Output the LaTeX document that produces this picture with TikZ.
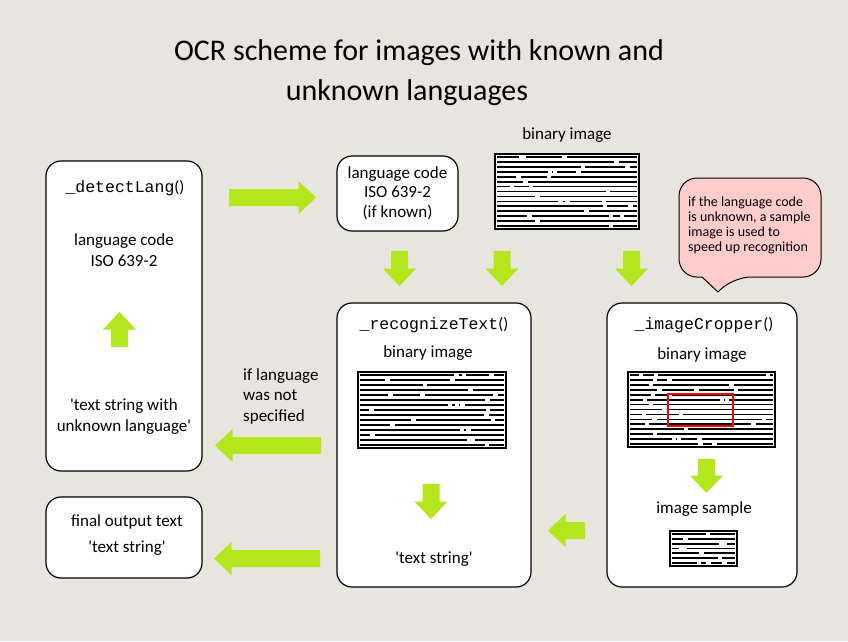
\documentclass[tikz,border=0pt]{standalone}
\usepackage{fontspec}
\setmainfont{Carlito}
\setmonofont{Liberation Mono}
\definecolor{bgcol}{RGB}{232,228,222}
\definecolor{arrowgreen}{RGB}{180,230,30}
\definecolor{calloutpink}{RGB}{255,204,204}

% binary image: x, y, width, height, rows
\newcommand{\binimg}[5]{%
  \fill[white] (#1,#2) rectangle ++(#3,#4);
  \pgfmathtruncatemacro{\lastrow}{#5-1}%
  \foreach \r in {0,...,\lastrow}{%
    \pgfmathsetmacro{\ry}{#2+4+\r*(#4-8)/\lastrow}%
    \draw[line width=1.7pt] (#1+3,\ry) -- (#1+#3-3,\ry);
    \pgfmathtruncatemacro{\ng}{1+int(2.99*rnd)}%
    \foreach \k in {1,...,\ng}{%
      \pgfmathsetmacro{\gx}{#1+8+rnd*(#3-18)}%
      \fill[white] (\gx,\ry-1.5) rectangle ++(4.5,3);
    }
  }
  \draw[line width=2.2pt] (#1+1.1,#2+1.1) rectangle (#1+#3-1.1,#2+#4-1.1);
}
% block arrow: tail x, tail y, angle, length
\newcommand{\garrow}[4]{%
  \fill[arrowgreen,shift={(#1,#2)},rotate=#3] (0,-8.5) -- (#4-17.5,-8.5) -- (#4-17.5,-16.5)
    -- (#4,0) -- (#4-17.5,16.5) -- (#4-17.5,8.5) -- (0,8.5) -- cycle;
}

\begin{document}
\begin{tikzpicture}[x=1pt,y=-1pt,
  box/.style={draw=black,line width=1.2pt,fill=white,rounded corners=15pt,inner sep=0pt},
  txt/.style={inner sep=0pt,align=center,font=\fontsize{17}{21}\selectfont},
  code/.style={inner sep=0pt,font=\fontsize{16.5}{20}\selectfont},
  titletxt/.style={inner sep=0pt,font=\fontsize{30}{36}\selectfont}]
  \fill[bgcol] (0,0) rectangle (848,641);
  \useasboundingbox (0,0) rectangle (848,641);
  \pgfmathsetseed{7}

  \node[titletxt] (title1) at (419,53) {OCR scheme for images with known and};
  \node[titletxt] (title2) at (407,93) {unknown languages};

  \node[box,minimum width=156,minimum height=310] (detect) at (124,316) {};
  \node[box,minimum width=121,minimum height=75] (langbox) at (397.5,193.5) {};
  \node[box,minimum width=194,minimum height=284] (recog) at (434,445) {};
  \node[box,minimum width=190,minimum height=284] (crop) at (702,445) {};
  \node[box,minimum width=156,minimum height=81] (final) at (124,537.5) {};

  \filldraw[fill=calloutpink,line width=1pt] (750,178) [rounded corners=18pt] -- (821,178) -- (821,277)
    -- (733,277) [sharp corners] -- (718,292) -- (702,277) [rounded corners=18pt] -- (679,277)
    -- (679,178) -- cycle;

  \binimg{494}{153}{146}{77}{15}
  \binimg{357}{371}{150}{78}{15}
  \binimg{627}{371}{149}{77}{15}
  \binimg{669}{530}{69}{37}{7}
  \draw[red,line width=1.3pt] (668,394) rectangle (733,426);

  \garrow{229}{197.5}{0}{87}
  \garrow{399.5}{251}{-90}{35}
  \garrow{502}{251}{-90}{35}
  \garrow{631.5}{251}{-90}{35}
  \garrow{119.5}{347}{90}{35}
  \garrow{321}{445.5}{180}{106}
  \garrow{320}{558.5}{180}{106}
  \garrow{431}{484}{-90}{35}
  \garrow{585}{530.5}{180}{37}
  \garrow{706.5}{459}{-90}{34}

  \node[txt] (binlabel) at (567,135) {binary image};
  \node[code] (detectname) at (125,188) {{\ttfamily\_detectLang}()};
  \node[txt] (detectcode) at (124,250) {language code\\ISO 639-2};
  \node[txt] (unknowntxt) at (124,416.5) {\textquotesingle text string with\\unknown language\textquotesingle};
  \node[txt,font=\fontsize{17}{19.5}\selectfont] (langtxt) at (397.5,193) {language code\\ISO 639-2\\(if known)};
  \node[code] (recogname) at (434,325) {{\ttfamily\_recognizeText}()};
  \node[txt] (recogbin) at (428,353) {binary image};
  \node[txt] (recogout) at (434,559) {\textquotesingle text string\textquotesingle};
  \node[code] (cropname) at (704,325) {{\ttfamily\_imageCropper}()};
  \node[txt] (cropbin) at (702,355) {binary image};
  \node[txt] (cropsample) at (704,509) {image sample};
  \node[txt,align=left,anchor=west,font=\fontsize{17}{20.5}\selectfont] (notspec) at (243,396) {if language\\was not\\specified};
  \node[txt] (finaltxt) at (127,522) {final output text};
  \node[txt] (finalstr) at (127,548) {\textquotesingle text string\textquotesingle};
  \node[txt,align=left,anchor=west,font=\fontsize{14}{15}\selectfont] (calltxt) at (688,225.5) {if the language code\\is unknown, a sample\\image is used to\\speed up recognition};
\end{tikzpicture}
\end{document}
